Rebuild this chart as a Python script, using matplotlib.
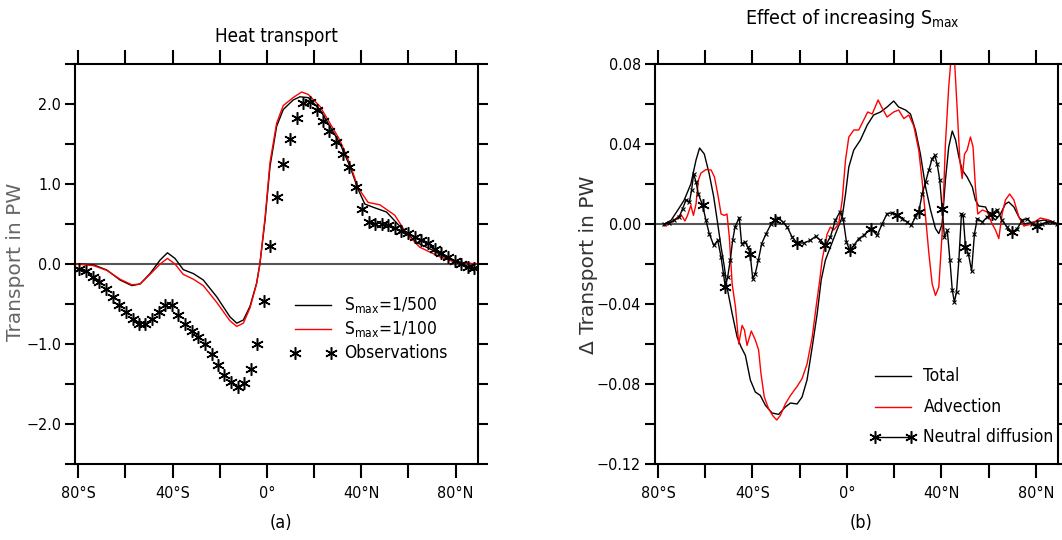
import matplotlib
matplotlib.use('Agg')
import matplotlib.pyplot as plt
import numpy as np
from matplotlib import font_manager as fm
from matplotlib.ticker import FuncFormatter

# pick a narrow sans if one is installed
entries = fm.fontManager.ttflist
names = {f.name for f in entries}
scale = 1.0
if 'Liberation Sans Narrow' in names:
    plt.rcParams['font.family'] = ['Liberation Sans Narrow', 'DejaVu Sans']
    plt.rcParams['mathtext.rm'] = 'Liberation Sans Narrow'
elif any(f.name == 'DejaVu Sans' and str(f.stretch) == 'condensed' for f in entries):
    plt.rcParams['font.family'] = ['DejaVu Sans']
    plt.rcParams['font.stretch'] = 'condensed'
    plt.rcParams['mathtext.rm'] = 'DejaVu Sans:stretch=condensed'
else:
    plt.rcParams['font.family'] = ['Liberation Sans', 'DejaVu Sans']
    plt.rcParams['mathtext.rm'] = 'Liberation Sans'
    scale = 0.92
plt.rcParams['mathtext.fontset'] = 'custom'
plt.rcParams['axes.unicode_minus'] = True

# ---- panel (a): heat transport (PW) ----
lat_500 = [-80.6, -73.6, -67.9, -62.3, -57.3, -53.8, -49.6, -45.3, -42.2, -39.0, -35.5,
           -31.2, -27.0, -21.3, -15.7, -12.8, -10.0, -7.2, -4.4, -3.0, -0.8, 1.3, 4.1,
           6.9, 11.1, 14.0, 17.5, 22.5, 26.7, 30.9, 35.2, 38.7, 41.5, 45.0, 50.7, 56.4,
           63.4, 70.5, 77.5, 84.6, 89.3]
ht_500 = [0.0, -0.01, -0.075, -0.20, -0.27, -0.25, -0.12, 0.05, 0.14, 0.07, -0.07,
          -0.12, -0.20, -0.41, -0.66, -0.74, -0.70, -0.53, -0.24, 0.0, 0.55, 1.22, 1.72,
          1.93, 2.05, 2.09, 2.08, 1.93, 1.72, 1.51, 1.22, 0.93, 0.75, 0.71, 0.65, 0.47,
          0.27, 0.17, 0.05, 0.01, 0.0]

lat_100 = [-80.6, -73.6, -67.9, -62.3, -57.3, -53.8, -49.6, -45.3, -42.2, -39.0, -35.5,
           -31.2, -27.0, -21.3, -15.7, -12.8, -10.0, -7.2, -4.4, -3.0, -0.8, 1.3, 4.1,
           6.9, 11.1, 14.7, 17.5, 22.5, 26.7, 30.9, 35.2, 38.7, 42.9, 47.9, 54.2, 59.2,
           64.8, 73.3, 80.0, 89.3]
ht_100 = [0.0, -0.02, -0.08, -0.19, -0.26, -0.25, -0.13, 0.0, 0.07, 0.0, -0.13,
          -0.19, -0.27, -0.48, -0.71, -0.78, -0.74, -0.55, -0.25, 0.0, 0.58, 1.27, 1.76,
          1.98, 2.08, 2.15, 2.12, 1.97, 1.76, 1.55, 1.25, 0.95, 0.77, 0.74, 0.61, 0.38,
          0.21, 0.09, 0.02, 0.0]

lat_obs = [-79.5, -76.7, -73.9, -71.1, -68.2, -65.4, -62.6, -59.7, -56.9, -54.4, -51.6,
           -48.7, -45.9, -43.1, -40.3, -37.6, -34.7, -31.9, -29.1, -26.3, -23.4, -20.6,
           -18.1, -15.3, -12.4, -9.9, -6.9, -4.1, -1.4, 1.3, 4.2, 6.9, 9.7, 12.6, 15.4,
           18.2, 21.1, 23.6, 26.4, 29.2, 32.1, 34.9, 37.6, 40.4, 43.2, 45.8, 48.6, 51.3,
           54.1, 56.9, 59.9, 62.7, 65.5, 68.4, 71.2, 74.0, 76.8, 79.7, 82.5, 85.3, 87.8]
ht_obs = [-0.067, -0.083, -0.158, -0.225, -0.317, -0.417, -0.517, -0.60, -0.683, -0.75,
          -0.75, -0.683, -0.60, -0.508, -0.508, -0.633, -0.75, -0.833, -0.908, -1.0,
          -1.125, -1.267, -1.392, -1.475, -1.542, -1.483, -1.317, -1.0, -0.467, 0.229,
          0.842, 1.25, 1.558, 1.821, 2.008, 2.03, 1.925, 1.79, 1.667, 1.53, 1.375, 1.208,
          0.958, 0.683, 0.525, 0.50, 0.50, 0.4875, 0.454, 0.417, 0.383, 0.342, 0.30,
          0.258, 0.183, 0.133, 0.083, 0.033, 0.0, -0.033, -0.054]

# ---- panel (b): change in transport (PW) ----
lat_tot = [-77.3, -74.5, -71.7, -68.9, -66.1, -63.9, -62.4, -60.4, -58.3, -56.4, -54.7,
           -53.3, -51.9, -50.8, -48.6, -46.5, -44.8, -43.0, -40.9, -38.8, -36.7, -34.5,
           -31.7, -28.9, -26.1, -23.9, -21.1, -19.0, -16.9, -14.7, -12.6, -10.9, -9.1,
           -7.0, -4.2, -2.0, -0.6, 0.8, 2.9, 5.7, 8.6, 11.3, 14.2, 17.0, 19.8, 21.9, 24.8,
           26.9, 29.0, 31.1, 33.3, 35.4, 37.5, 38.9, 40.3, 41.7, 43.1, 44.6, 46.0, 47.4,
           48.8, 50.9, 53.1, 54.4, 55.8, 58.7, 60.1, 62.9, 65.0, 67.1, 68.5, 70.7, 72.8,
           74.9, 79.2, 83.4, 89.1]
d_tot = [0.0, 0.0018, 0.0068, 0.012, 0.020, 0.032, 0.038, 0.035, 0.025, 0.0135, 0.0,
         -0.0115, -0.0215, -0.0315, -0.0448, -0.0565, -0.0615, -0.0657, -0.078, -0.084,
         -0.0857, -0.0907, -0.0945, -0.0952, -0.0915, -0.0895, -0.090, -0.0865, -0.078,
         -0.0615, -0.0448, -0.028, -0.018, -0.0115, -0.003, 0.0035, 0.015, 0.0285, 0.037,
         0.042, 0.0495, 0.0545, 0.056, 0.0585, 0.0615, 0.0585, 0.057, 0.055, 0.047, 0.035,
         0.0185, 0.007, -0.0023, -0.0048, 0.0, 0.022, 0.0385, 0.0465, 0.042, 0.0335,
         0.027, 0.0235, 0.0185, 0.012, 0.009, 0.0085, 0.005, 0.002, 0.005, 0.010, 0.011,
         0.0085, 0.0035, 0.0, 0.001, 0.002, 0.0]

lat_adv = [-77.3, -74.5, -72.4, -70.3, -68.6, -67.5, -66.1, -65.0, -63.9, -62.9, -61.8,
           -59.7, -57.5, -56.1, -54.7, -53.3, -51.9, -50.8, -49.8, -48.6, -47.2, -45.8,
           -44.4, -43.4, -42.3, -40.5, -38.8, -37.4, -36.4, -35.0, -33.2, -31.3, -29.7,
           -28.2, -26.1, -23.9, -21.1, -19.0, -16.9, -14.7, -12.9, -11.5, -10.5, -8.4,
           -7.0, -5.6, -3.5, -2.0, -0.6, 0.8, 2.9, 5.0, 7.1, 8.8, 10.7, 13.2, 14.9, 17.0,
           19.8, 21.9, 24.1, 26.2, 28.3, 30.4, 31.8, 33.3, 34.7, 36.1, 37.5, 38.9, 40.3,
           41.7, 43.1, 44.1, 45.5, 46.7, 47.8, 48.8, 49.8, 50.9, 52.3, 53.4, 54.4, 55.4,
           57.3, 59.4, 61.5, 62.9, 64.3, 65.7, 67.1, 68.9, 70.7, 72.8, 74.9, 78.1, 81.9,
           85.5, 89.1]
d_adv = [-0.001, 0.001, 0.0027, 0.0048, 0.0015, 0.0043, 0.0093, 0.0043, 0.010, 0.022,
         0.0255, 0.0272, 0.027, 0.0235, 0.015, 0.005, 0.0043, 0.005, -0.0065, -0.030,
         -0.0415, -0.060, -0.0507, -0.053, -0.0607, -0.0535, -0.058, -0.063, -0.0748,
         -0.0865, -0.0923, -0.096, -0.098, -0.0957, -0.090, -0.0857, -0.0812, -0.0773,
         -0.070, -0.0565, -0.040, -0.028, -0.018, -0.005, -0.0015, -0.003, 0.0, 0.012,
         0.032, 0.0435, 0.047, 0.047, 0.052, 0.056, 0.055, 0.062, 0.058, 0.0535, 0.056,
         0.057, 0.0527, 0.0545, 0.049, 0.037, 0.022, 0.0035, -0.0148, -0.030, -0.0357,
         -0.0315, -0.0048, 0.040, 0.0685, 0.083, 0.083, 0.057, 0.032, 0.0227, 0.035,
         0.037, 0.0435, 0.0385, 0.0185, 0.005, 0.007, 0.006, 0.0, -0.003, -0.0073, 0.005,
         0.012, 0.015, 0.012, 0.0035, -0.001, 0.0, 0.003, 0.002, 0.0]

lat_nd = [-77.3, -75.2, -73.1, -71.0, -69.6, -68.1, -66.7, -65.8, -64.9, -63.9, -62.9,
          -61.1, -59.7, -58.3, -56.4, -54.7, -53.3, -52.3, -51.5, -50.5, -49.4, -48.4,
          -47.4, -45.6, -44.6, -43.1, -42.0, -41.0, -39.9, -38.8, -37.5, -36.1, -34.2,
          -32.1, -30.4, -29.0, -27.2, -25.3, -23.2, -21.1, -18.3, -15.5, -13.3, -11.2,
          -9.1, -7.0, -4.9, -3.0, -1.6, -0.2, 1.2, 2.9, 5.0, 7.1, 10.0, 12.8, 14.9, 17.0,
          19.2, 21.3, 23.4, 25.5, 27.2, 29.0, 30.4, 31.9, 33.3, 34.7, 36.1, 37.2, 38.2,
          39.3, 40.3, 41.3, 42.5, 43.6, 44.6, 45.5, 46.4, 47.4, 48.5, 49.2, 50.2, 51.4,
          52.8, 54.0, 55.2, 57.3, 59.4, 61.5, 63.6, 65.7, 67.8, 70.0, 72.1, 74.2, 76.4,
          78.5, 80.6, 82.7, 84.8, 87.0, 89.1]
d_nd = [0.0, 0.0005, 0.0018, 0.0035, 0.0077, 0.012, 0.011, 0.0168, 0.025, 0.021, 0.015,
        0.0093, 0.0018, -0.0048, -0.0107, -0.0082, -0.0165, -0.0248, -0.0315, -0.0265,
        -0.018, -0.0082, -0.0015, 0.0032, -0.0098, -0.009, -0.0115, -0.0148, -0.0273,
        -0.0248, -0.018, -0.0098, -0.0048, 0.0, 0.0018, 0.0032, 0.001, -0.0015, -0.0065,
        -0.0095, -0.0095, -0.0082, -0.0062, -0.0082, -0.0107, -0.0065, 0.0018, 0.006,
        0.0027, -0.009, -0.0132, -0.0107, -0.0073, -0.0057, -0.0023, -0.0057, 0.0,
        0.0052, 0.0055, 0.0043, 0.0027, 0.001, -0.0007, 0.0035, 0.006, 0.0152, 0.021,
        0.027, 0.0327, 0.0343, 0.030, 0.022, 0.0077, -0.0065, -0.0032, -0.018, -0.033,
        -0.039, -0.034, -0.018, 0.0052, 0.0043, -0.0115, -0.0148, -0.0235, -0.0048,
        0.0027, 0.001, 0.0035, 0.0052, 0.0072, 0.0018, -0.0015, -0.004, -0.0023, 0.0018,
        0.0027, 0.0, -0.0012, 0.0, 0.001, 0.001, 0.0]

# latitudes that get the large asterisk on the neutral diffusion curve
big_lats = [-61, -51.5, -41, -30.5, -21, -9, 1, 10, 21, 30.5, 40.3, 50.2, 61.5, 70, 80.6]


def lat_fmt(v, pos):
    v = int(round(v))
    if v % 40:
        return ''
    if v == 0:
        return '0°'
    return f'{abs(v)}°' + ('S' if v < 0 else 'N')


def style(ax, yticks, ylabels):
    ax.set_xlim(-81.4, 89.5)
    ax.set_xticks(np.arange(-80, 81, 20))
    ax.xaxis.set_major_formatter(FuncFormatter(lat_fmt))
    ax.set_ylim(yticks[0], yticks[-1])
    ax.set_yticks(yticks)
    ax.set_yticklabels(ylabels)
    ax.tick_params(axis='both', direction='out', top=True, right=True,
                   width=1.5, labelsize=11.5 * scale)
    ax.tick_params(axis='x', length=10, pad=6)
    ax.tick_params(axis='y', length=7, pad=3)
    for s in ax.spines.values():
        s.set_linewidth(1.5)
    ax.axhline(0, color='#555555', lw=1.5, zorder=1)


fig = plt.figure(figsize=(10.62, 5.40), dpi=100)
ax1 = fig.add_axes([75 / 1062, 76 / 540, 403 / 1062, 400 / 540])
ax2 = fig.add_axes([654.7 / 1062, 76 / 540, 403.6 / 1062, 400 / 540])

star = (6, 2, 0)

# panel (a)
yt1 = np.arange(-2.5, 2.51, 0.5)
yl1 = ['' if abs(v - round(v)) > 1e-6 else f'{v:.1f}'.replace('-', '\u2212') for v in yt1]
style(ax1, yt1, yl1)
ax1.plot(lat_500, ht_500, color='black', lw=1)
ax1.plot(lat_100, ht_100, color='red', lw=1)
ax1.plot(lat_obs, ht_obs, ls='none', marker=star, ms=9, mew=1.1, color='black')

leg_y = [0.3975, 0.3375, 0.2775]
ax1.plot([0.546, 0.635], [leg_y[0]] * 2, transform=ax1.transAxes, color='black', lw=1)
ax1.plot([0.546, 0.635], [leg_y[1]] * 2, transform=ax1.transAxes, color='red', lw=1)
ax1.plot([0.546, 0.635], [leg_y[2]] * 2, transform=ax1.transAxes, ls='none',
         marker=star, ms=9, mew=1.1, color='black')
for y, t in zip(leg_y, [r'S$_{\rm max}$=1/500', r'S$_{\rm max}$=1/100', 'Observations']):
    ax1.text(0.667, y, t, transform=ax1.transAxes, va='center', fontsize=12.5 * scale)

# panel (b)
yt2 = np.round(np.arange(-0.12, 0.081, 0.02), 2)
yl2 = [f'{v:.2f}'.replace('-', '\u2212') if abs(round(v / 0.04) * 0.04 - v) < 1e-6 else ''
       for v in yt2]
style(ax2, yt2, yl2)
ax2.plot(lat_tot, d_tot, color='black', lw=1)
ax2.plot(lat_adv, d_adv, color='red', lw=1)
nd_lat = np.array(lat_nd)
big_idx = [int(np.argmin(np.abs(nd_lat - t))) for t in big_lats]
ax2.plot(lat_nd, d_nd, color='black', lw=1, marker='x', ms=3.5, mew=0.8)
ax2.plot(lat_nd, d_nd, ls='none', marker=star, ms=9, mew=1.1, color='black',
         markevery=big_idx)

leg2_y = [0.22, 0.1425, 0.0685]
ax2.plot([0.546, 0.636], [leg2_y[0]] * 2, transform=ax2.transAxes, color='black', lw=1)
ax2.plot([0.546, 0.636], [leg2_y[1]] * 2, transform=ax2.transAxes, color='red', lw=1)
ax2.plot([0.546, 0.636], [leg2_y[2]] * 2, transform=ax2.transAxes, color='black', lw=1,
         marker=star, ms=9, mew=1.1)
for y, t in zip(leg2_y, ['Total', 'Advection', 'Neutral diffusion']):
    ax2.text(0.666, y, t, transform=ax2.transAxes, va='center', fontsize=12.5 * scale)

# titles and labels
fig.text(276.5 / 1062, 1 - 37 / 540, 'Heat transport', ha='center', va='center',
         fontsize=13.5 * scale)
fig.text(852 / 1062, 1 - 19 / 540, r'Effect of increasing S$_{\rm max}$',
         ha='center', va='center', fontsize=14 * scale)
fig.text(280.6 / 1062, 1 - 523 / 540, '(a)', ha='center', va='center', fontsize=13 * scale)
fig.text(861 / 1062, 1 - 523 / 540, '(b)', ha='center', va='center', fontsize=13 * scale)
fig.text(15.5 / 1062, 1 - 262 / 540, 'Transport in PW', rotation=90, ha='center',
         va='center', fontsize=14.5, color='#666666', family='DejaVu Sans',
         stretch='normal')
fig.text(588 / 1062, 1 - 265 / 540, '\u0394 Transport in PW', rotation=90, ha='center',
         va='center', fontsize=14.5, color='#333333', family='DejaVu Sans',
         stretch='normal')

fig.savefig('out.png', dpi=100)
